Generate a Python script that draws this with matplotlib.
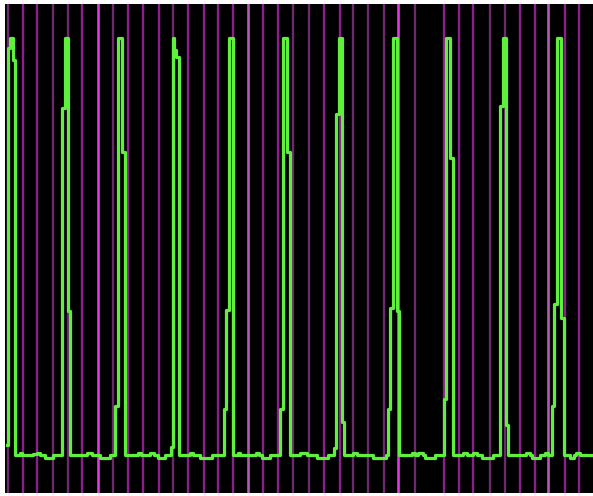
import matplotlib
matplotlib.use('Agg')
import matplotlib.pyplot as plt

# 采样位置（横轴，采样点）和电平（纵轴，%），阶梯方式连接
trace_x = [7, 8, 10, 13, 15,
           20, 22, 33, 37, 40, 45, 53,
           62, 65, 68, 70,
           87, 92, 100, 110,
           115, 118, 122, 125,
           138, 141, 150, 154, 158, 165,
           171, 173, 174, 176, 179,
           190, 193, 200, 212,
           224, 226, 229, 233,
           238, 240, 256, 259, 262, 270,
           280, 283, 287, 290,
           300, 307, 317, 328,
           334, 336, 339, 342, 344,
           353, 357, 373, 386,
           388, 390, 393, 397, 399,
           412, 415, 418, 423, 425, 435,
           444, 446, 450, 453,
           463, 467, 473, 477, 482, 493,
           500, 503, 506, 508,
           526, 530, 532, 540, 545, 548,
           552, 554, 557, 561, 564,
           570, 574, 576, 580, 593]
trace_level = [2.4, 97.6, 100, 94.7, 0,
               0.6, 0, 0.3, 0.6, 0, -0.6, 0,
               83.2, 100, 34.5, 0,
               0.6, 0, -0.6, 0,
               11.8, 100, 72.7, 0,
               0.6, 0, 0.6, 0, -0.6, 0,
               1.9, 100, 97.1, 95.4, 0,
               0.6, 0, -0.6, 0,
               11.0, 34.8, 100, 0,
               0.6, 0, 0.6, 0, -0.6, 0,
               11.0, 100, 72.7, 0,
               0.6, 0, -0.6, 0,
               1.7, 81.8, 100, 7.9, 0,
               0.6, 0, -0.6, 0,
               11.0, 35.3, 100, 34.5, 0,
               0.6, 0, 0.6, 0, -0.6, 0,
               13.4, 100, 71.2, 0,
               0.6, 0, 0.6, 0, -0.6, 0,
               83.7, 100, 7.2, 0,
               0.6, 0, -0.6, 0, 0.6, 0,
               11.8, 36.2, 100, 32.9, 0,
               -0.6, 0, 0.6, 0, 0]

# 竖直标记线的位置，按颜色分组
marker_dark = [8, 53, 68, 113, 173, 293, 309, 353, 368, 384, 415, 490, 505]
marker_mid = [23, 37, 82, 128, 143, 159, 188, 204, 218, 233, 263, 278,
              324, 340, 444, 459, 473, 520, 535, 565, 579]
marker_light = [248, 548]
marker_bright = [98, 398]

fig = plt.figure(figsize=(5.93, 4.96), dpi=100)
ax = fig.add_axes([5 / 593, 3 / 496, 588 / 593, 489 / 496])
ax.set_facecolor('black')

# 标记线
for x in marker_dark:
    ax.axvline(x, color='#6a2a6c', linewidth=1.7, zorder=1)
for x in marker_mid:
    ax.axvline(x, color='#8e1e8e', linewidth=1.7, zorder=1)
for x in marker_light:
    ax.axvline(x, color='#b658b6', linewidth=1.9, zorder=1)
for x in marker_bright:
    ax.axvline(x, color='#e636e6', linewidth=1.9, zorder=1)

# 信号波形
ax.plot(trace_x, trace_level, drawstyle='steps-post', color='#5ef03c',
        linewidth=2.3, zorder=2)

ax.set_xlim(5, 593)
ax.set_ylim(-9.1, 108.2)
ax.set_xticks([])
ax.set_yticks([])
for s in ax.spines.values():
    s.set_visible(False)

fig.savefig('out.png', dpi=100, facecolor='white')
